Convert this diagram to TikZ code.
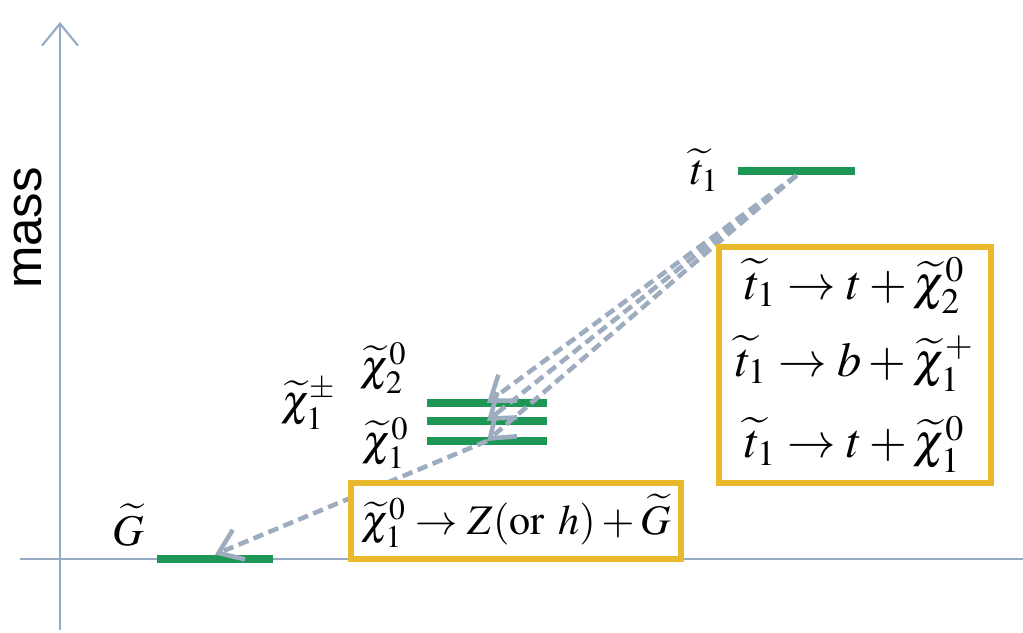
\documentclass[tikz,border=0pt]{standalone}
\usepackage{amsmath}
\usepackage{mathptmx}
\usepackage[no-math]{fontspec}
\newfontfamily\arialfont{Liberation Sans}
\usepackage{xcolor}
\definecolor{axisblue}{RGB}{150,170,195}
\definecolor{dashgray}{RGB}{158,172,192}
\definecolor{levelgreen}{RGB}{30,150,85}
\definecolor{boxgold}{RGB}{232,185,45}
\usepackage{tikz}
\usetikzlibrary{arrows.meta, positioning}

\tikzset{
  level/.style={fill=levelgreen, draw=none, inner sep=0pt, minimum width=1.17cm, minimum height=0.075cm},
  lbl/.style={font=\fontsize{12.5}{15}\selectfont, inner sep=1pt},
  decaybox/.style={draw=boxgold, line width=1.8pt, fill=white, font=\fontsize{12}{15}\selectfont, align=center, inner sep=3pt},
  decay/.style={dashgray, line width=1.3pt, dash pattern=on 3pt off 1.6pt, -{Straight Barb[length=2.2mm, width=3.2mm]}}
}

\begin{document}
\begin{tikzpicture}
  \useasboundingbox (0,0) rectangle (10.23,6.33);

  % Axes
  \draw[axisblue, line width=0.6pt] (0.20,0.74) -- (10.23,0.74);
  \draw[axisblue, line width=0.6pt, -{Straight Barb[length=2.2mm, width=3.6mm]}] (0.60,0.03) -- (0.60,6.11);
  \node[font=\arialfont\fontsize{14.5}{17}\selectfont, rotate=90] (masslbl) at (0.28,4.05) {mass};

  % Mass levels
  \node[level] (stop) at (7.965,4.62) {};
  \node[level, minimum width=1.20cm] (chitwo) at (4.87,2.30) {};
  \node[level, minimum width=1.20cm] (chipm) at (4.87,2.12) {};
  \node[level, minimum width=1.20cm] (chione) at (4.87,1.92) {};
  \node[level, minimum width=1.16cm] (gbar) at (2.15,0.74) {};

  % Level labels
  \node[lbl] (stoplbl) at (7.05,4.63) {$\widetilde{t}_1$};
  \node[lbl] (chipmlbl) at (3.09,2.29) {$\widetilde{\chi}_1^{\pm}$};
  \node[lbl] (chitwolbl) at (3.84,2.65) {$\widetilde{\chi}_2^{0}$};
  \node[lbl] (chionelbl) at (3.86,1.90) {$\widetilde{\chi}_1^{0}$};
  \node[lbl] (glbl) at (1.28,1.08) {$\widetilde{G}$};

  % Decay chains
  \draw[decay] (stop.south) -- (chitwo.center);
  \draw[decay] (stop.south) -- (chipm.center);
  \draw[decay] (stop.south) -- (chione.center);
  \draw[decay] (chione.center) -- (gbar.north);

  % Decay boxes
  \node[decaybox, font=\fontsize{13.8}{16}\selectfont, minimum width=2.72cm, minimum height=2.32cm] (stopbox) at (8.55,2.68)
    {$\widetilde{t}_1 \rightarrow t + \widetilde{\chi}_2^0$\\[6pt]
     $\widetilde{t}_1 \rightarrow b + \widetilde{\chi}_1^{+}$\\[6pt]
     $\widetilde{t}_1 \rightarrow t + \widetilde{\chi}_1^0$};
  \node[decaybox, minimum width=3.28cm, minimum height=0.76cm] (chibox) at (5.16,1.12)
    {$\widetilde{\chi}_1^0 \rightarrow Z(\mathrm{or}\ h) + \widetilde{G}$};
\end{tikzpicture}
\end{document}
